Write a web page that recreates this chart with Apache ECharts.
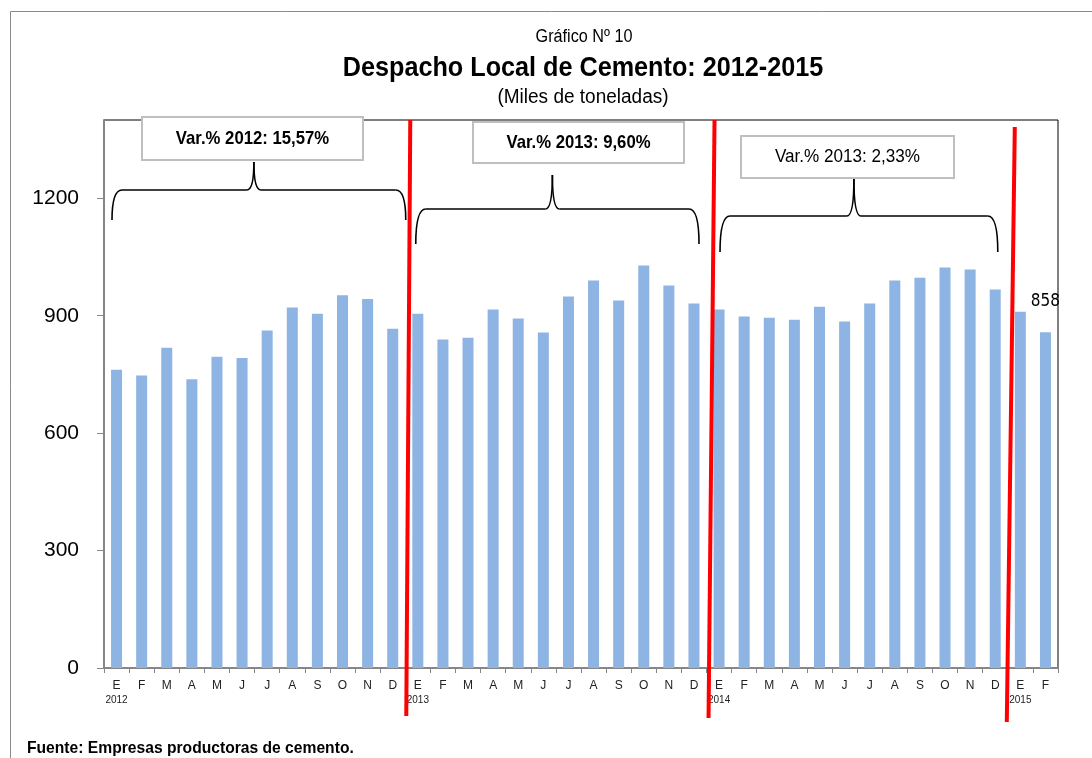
<!DOCTYPE html>
<html>
<head>
<meta charset="utf-8">
<script src="https://cdn.jsdelivr.net/npm/echarts@6/dist/echarts.min.js"></script>
<style>
html,body{margin:0;padding:0;background:#fff;}
#chart{width:1092px;height:758px;}
</style>
</head>
<body>
<div id="chart"></div>
<script>
// ---- data ----
const months = ['E','F','M','A','M','J','J','A','S','O','N','D'];
const years = ['2012','2013','2014','2015'];
const v2012 = [762,747,818,738,795,792,862,921,905,952,943,867];
const v2013 = [905,839,844,916,893,857,949,990,939,1028,977,931];
const v2014 = [916,898,895,890,923,885,931,990,997,1023,1018,967];
const v2015 = [910,858];
const yTicks = [0,300,600,900,1200];
const varLabels = ['Var.% 2012: 15,57%','Var.% 2013: 9,60%','Var.% 2013: 2,33%'];
const titleSmall = 'Gráfico Nº 10';
const titleMain = 'Despacho Local de Cemento: 2012-2015';
const titleSub = '(Miles de toneladas)';
const source = 'Fuente: Empresas productoras de cemento.';

const SANS = '"Liberation Sans",Arial,sans-serif';

const yearValues = [v2012, v2013, v2014, v2015];
const categories = [];
const values = [];
yearValues.forEach((arr, yi) => {
  arr.forEach((v, mi) => {
    categories.push(months[mi] + '|' + years[yi]);
    values.push(v);
  });
});
const lastIdx = values.length - 1;
const seriesData = values.map((v, i) => i === lastIdx
  ? {value: v, label: {show: true}}
  : v);

const chart = echarts.init(document.getElementById('chart'));
const option = {
  animation: false,
  backgroundColor: '#fff',
  grid: {left: 104, right: 34, top: 120, bottom: 90, show: true, borderColor: '#000', borderWidth: 1, backgroundColor: 'transparent'},
  xAxis: {
    type: 'category',
    data: categories,
    axisLine: {lineStyle: {color: '#868686', width: 2}},
    axisTick: {show: true, length: 5, lineStyle: {color: '#868686', width: 1}},
    axisLabel: {
      interval: 0,
      margin: 10,
      color: '#222',
      fontSize: 12,
      fontFamily: SANS,
      lineHeight: 15,
      formatter: function (val) {
        const parts = val.split('|');
        if (parts[0] === 'E') return parts[0] + '\n{yr|' + parts[1] + '}';
        return parts[0];
      },
      rich: {yr: {fontSize: 10, fontFamily: SANS, color: '#222', lineHeight: 15}}
    }
  },
  yAxis: {
    type: 'value',
    min: 0,
    max: 1400,
    interval: 300,
    splitLine: {show: false},
    axisLine: {show: true, lineStyle: {color: '#868686', width: 2}},
    axisTick: {show: true, length: 7, lineStyle: {color: '#868686', width: 1}, customValues: yTicks},
    axisLabel: {color: '#000', fontSize: 21, fontFamily: SANS, margin: 25, customValues: yTicks,
      formatter: function (v) { return String(v); }}
  },
  series: [{
    type: 'bar',
    data: seriesData,
    barWidth: 11,
    itemStyle: {color: '#8EB4E3'},
    label: {show: false, position: 'top', distance: 22, fontSize: 17, fontFamily: '"DejaVu Sans Condensed",sans-serif', color: '#000'}
  }]
};
chart.setOption(option);

// ---- annotations computed from the axis scales ----
function px(idx) { return chart.convertToPixel({xAxisIndex: 0}, idx); }
function py(v) { return chart.convertToPixel({yAxisIndex: 0}, v); }
const half = (px(1) - px(0)) / 2;
function boundary(i) { return px(i) - half; }

function narrowText(text, x, y, size, weight, align, sx) {
  return {type: 'text', x: x, y: y, scaleX: sx, z: 40,
    style: {text: text, fontSize: size, fontWeight: weight, fontFamily: SANS, fill: '#000', align: align, verticalAlign: 'middle'}};
}

const g = [];
// outer frame
g.push({type: 'rect', shape: {x: 10.5, y: 11.5, width: 1200, height: 900}, style: {fill: 'none', stroke: '#8a8a8a', lineWidth: 1}, z: 0});
// titles
g.push(narrowText(titleSmall, 584, 37, 18, 'normal', 'center', 0.9));
g.push(narrowText(titleMain, 583, 68, 28, 'bold', 'center', 0.9));
g.push(narrowText(titleSub, 583, 97, 20, 'normal', 'center', 0.95));
// footer
g.push(narrowText(source, 27, 748, 17, 'bold', 'left', 0.92));

// braces: offsets relative to the year boundaries
const braces = [
  {a: 0, b: 12, da: 8, db: 0.5, yh: 190, yb: 220, yp: 162, box: [142, 117, 221, 43], bold: true},
  {a: 12, b: 24, da: 10.5, db: -7.5, yh: 209, yb: 244, yp: 175, box: [473, 122, 211, 41], bold: true},
  {a: 24, b: 36, da: 13.5, db: -10, yh: 216, yb: 252, yp: 179, box: [741, 136, 213, 42], bold: false}
];
const braceStyle = {fill: 'none', stroke: '#000', lineWidth: 1.6};
braces.forEach((br, k) => {
  const x1 = boundary(br.a) + br.da;
  const x2 = boundary(br.b) + br.db;
  const xm = (x1 + x2) / 2 - 5;
  const r = 10, rc = 7;
  const yh = br.yh, yb = br.yb, yp = br.yp;
  g.push({type: 'bezierCurve', shape: {x1: x1, y1: yb, cpx1: x1, cpy1: yh, x2: x1 + r, y2: yh}, style: braceStyle, z: 20});
  g.push({type: 'line', shape: {x1: x1 + r, y1: yh, x2: xm - rc, y2: yh}, style: braceStyle, z: 20});
  g.push({type: 'bezierCurve', shape: {x1: xm - rc, y1: yh, cpx1: xm, cpy1: yh, x2: xm, y2: yp}, style: braceStyle, z: 20});
  g.push({type: 'bezierCurve', shape: {x1: xm, y1: yp, cpx1: xm, cpy1: yh, x2: xm + rc, y2: yh}, style: braceStyle, z: 20});
  g.push({type: 'line', shape: {x1: xm + rc, y1: yh, x2: x2 - r, y2: yh}, style: braceStyle, z: 20});
  g.push({type: 'bezierCurve', shape: {x1: x2 - r, y1: yh, cpx1: x2, cpy1: yh, x2: x2, y2: yb}, style: braceStyle, z: 20});
  const b = br.box;
  g.push({type: 'rect', shape: {x: b[0], y: b[1], width: b[2], height: b[3]}, style: {fill: '#fff', stroke: '#bfbfbf', lineWidth: 2}, z: 21});
  g.push(narrowText(varLabels[k], b[0] + b[2] / 2, b[1] + b[3] / 2, 19, br.bold ? 'bold' : 'normal', 'center', br.bold ? 0.88 : 0.9));
});

// red separators between years
const seps = [
  {i: 12, top: py(1400), bottom: 716, dt: 5, db: 1},
  {i: 24, top: py(1400), bottom: 718, dt: 8, db: 2},
  {i: 36, top: 127, bottom: 722, dt: 7, db: -1}
];
seps.forEach(s => {
  const xb = boundary(s.i);
  g.push({type: 'line', shape: {x1: xb + s.dt, y1: s.top, x2: xb + s.db, y2: s.bottom}, style: {stroke: '#FF0000', lineWidth: 4}, z: 30});
});

chart.setOption({graphic: g});
</script>
</body>
</html>
